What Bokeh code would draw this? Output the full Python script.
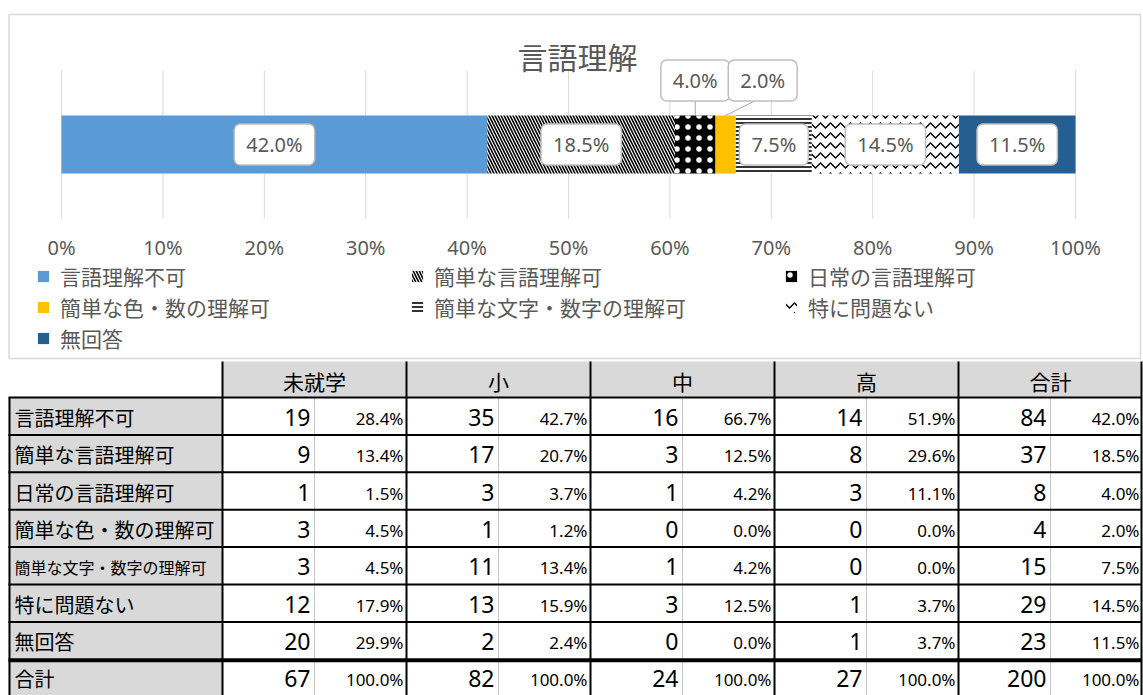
import numpy as np
from bokeh.plotting import figure
from bokeh.layouts import column
from bokeh.models import Range1d, Legend, LegendItem, Label
from bokeh.core.properties import value
from bokeh.embed import file_html
from bokeh.resources import INLINE

# ---------------- data ----------------
title_text = "言語理解"
categories = ["言語理解不可", "簡単な言語理解可", "日常の言語理解可", "簡単な色・数の理解可",
              "簡単な文字・数字の理解可", "特に問題ない", "無回答"]
groups = ["未就学", "小", "中", "高", "合計"]
counts_preschool = [19, 9, 1, 3, 3, 12, 20]
counts_elementary = [35, 17, 3, 1, 11, 13, 2]
counts_junior = [16, 3, 1, 0, 1, 3, 0]
counts_high = [14, 8, 3, 0, 0, 1, 1]
counts_total = [84, 37, 8, 4, 15, 29, 23]
total_label = "合計"
tick_values = [0, 10, 20, 30, 40, 50, 60, 70, 80, 90, 100]

# ---------------- styles ----------------
GRAY = "#595959"
JP = "Noto Sans CJK JP"
fill_colors = ["#5B9BD5", "#FFFFFF", "#000000", "#FFC000", "#FFFFFF", "#FFFFFF", "#255E91"]
hatch_patterns = [None, "left_diagonal_line", "dot", None, "horizontal_line", "horizontal_wave", None]
hatch_colors = [None, "black", "white", None, "black", "black", None]
hatch_scales = [1, 6, 11, 1, 4, 10, 1]
hatch_weights = [1, 1.6, 1, 1, 1.6, 1.4, 1]
label_dx = [0, 0, 0, 37, 0, 0, 0]     # px
label_dy = [0, 0, 64, 64, 0, 0, 0]    # px

W = 1143
CH = 360
X0_PX, X100_PX = 61.0, 1075.0         # pixel position of 0% and 100%
PX_PER_UNIT = (X100_PX - X0_PX) / 100.0
GRID_TOP, GRID_BOTTOM = 70, 218
BAR_CY, BAR_H = 144, 58
TICK_Y = 247


def px2x(px):
    return (px - X0_PX) / PX_PER_UNIT


# ---------------- chart ----------------
shares = np.array(counts_total, dtype=float) / sum(counts_total) * 100.0
ends = np.cumsum(shares)
starts = ends - shares
centers = (starts + ends) / 2.0
pct_labels = ["%.1f%%" % s for s in shares]

p = figure(width=W, height=CH, x_range=Range1d(px2x(0), px2x(W)), y_range=Range1d(CH, 0),
           output_backend="svg", toolbar_location=None,
           min_border=0, min_border_left=0, min_border_right=0,
           min_border_top=0, min_border_bottom=0)
p.axis.visible = False
p.grid.visible = False
p.outline_line_color = None

# outer chart border
p.quad(left=[px2x(8.5)], right=[px2x(1140)], top=[14], bottom=[358],
       fill_color=None, line_color="#d9d9d9", line_width=1.5)

# grid lines and tick labels on the percent scale
p.segment(x0=tick_values, y0=[GRID_TOP] * len(tick_values), x1=tick_values,
          y1=[GRID_BOTTOM] * len(tick_values), line_color="#d9d9d9", line_width=1)
p.text(x=tick_values, y=[TICK_Y] * len(tick_values), text=["%d%%" % v for v in tick_values],
       text_align="center", text_baseline="middle", text_font=value("Noto Sans"),
       text_font_size="20px", text_color=GRAY)

renderers = []
for i, cat in enumerate(categories):
    kw = dict(y=[BAR_CY], left=[starts[i]], right=[ends[i]], height=BAR_H,
              fill_color=fill_colors[i], line_color=None)
    if hatch_patterns[i]:
        kw.update(hatch_pattern=hatch_patterns[i], hatch_color=hatch_colors[i],
                  hatch_scale=hatch_scales[i], hatch_weight=hatch_weights[i])
    renderers.append(p.hbar(**kw))

# leader lines for the offset labels
lx0, ly0, lx1, ly1 = [], [], [], []
for i in range(len(categories)):
    if label_dy[i] != 0:
        lx0.append(centers[i] + ((label_dx[i] - 5) / PX_PER_UNIT if label_dx[i] else 0))
        ly0.append(BAR_CY - label_dy[i] + 19)
        lx1.append(centers[i])
        ly1.append(BAR_CY - BAR_H / 2)
p.segment(x0=lx0, y0=ly0, x1=lx1, y1=ly1, line_color="#a6a6a6", line_width=1)

for i in range(len(categories)):
    p.add_layout(Label(x=centers[i], y=BAR_CY, x_offset=label_dx[i], y_offset=label_dy[i],
                       text=pct_labels[i], text_align="center", text_baseline="middle",
                       text_font="Noto Sans", text_font_size="20px", text_color=GRAY,
                       background_fill_color="white", border_line_color="#bfbfbf",
                       border_line_width=1.5, padding=(12, 7), border_radius=6))

p.add_layout(Label(x=px2x(577), y=55, text=title_text, text_align="center",
                   text_baseline="middle", text_font=JP, text_font_size="30px",
                   text_color=GRAY))

legend = Legend(items=[LegendItem(label=value(c), renderers=[r]) for c, r in zip(categories, renderers)],
                location=(36, 7), orientation="horizontal", ncols=3,
                glyph_width=14, glyph_height=14, label_standoff=10, label_width=349,
                spacing=1, padding=0, margin=0, border_line_color=None,
                background_fill_alpha=0, label_text_font=JP, label_text_font_size="21px",
                label_text_color=GRAY)
p.add_layout(legend, "center")

# ---------------- table ----------------
TH = 335
t = figure(width=W, height=TH, x_range=Range1d(0, W), y_range=Range1d(TH, 0),
           output_backend="svg", toolbar_location=None, min_border=0,
           min_border_left=0, min_border_right=0, min_border_top=0, min_border_bottom=0)
t.axis.visible = False
t.grid.visible = False
t.outline_line_color = None

left0 = 8
label_w = 214
group_w = 184
split = 92
top = 1
header_h = 36
row_h = 37.4
row_labels = categories + [total_label]
n_rows = len(row_labels)
group_counts = [counts_preschool, counts_elementary, counts_junior, counts_high, counts_total]
row_tops = [top + header_h + r * row_h for r in range(n_rows)]
x_lab_r = left0 + label_w
x_end = x_lab_r + len(groups) * group_w - 1
ymax_text = TH - 17


def row_mid(r):
    return min(row_tops[r] + row_h / 2 + 1, ymax_text)


# backgrounds
t.quad(left=[x_lab_r], right=[x_end], top=[top], bottom=[top + header_h], fill_color="#d9d9d9", line_color=None)
t.quad(left=[left0], right=[x_lab_r], top=[top + header_h], bottom=[TH], fill_color="#d9d9d9", line_color=None)

# dotted split lines
sx = [x_lab_r + g * group_w + split for g in range(len(groups))]
t.segment(x0=sx, y0=[top + header_h] * len(sx), x1=sx, y1=[TH] * len(sx),
          line_color="#8c8c8c", line_width=1, line_dash="1 1")

# solid lines
hx0, hy0, hx1, hy1, hw = [], [], [], [], []
for r in range(n_rows):
    hx0.append(left0); hx1.append(x_end)
    yy = row_tops[r] + (1 if r == n_rows - 1 else 0)
    hy0.append(yy); hy1.append(yy)
    hw.append(4 if r == n_rows - 1 else 2)
vx = [left0 + 1, x_lab_r] + [x_lab_r + g * group_w for g in range(1, len(groups))] + [x_end]
for k, x in enumerate(vx):
    hx0.append(x); hx1.append(x)
    hy0.append(top + header_h if k == 0 else top); hy1.append(TH)
    hw.append(2)
t.segment(x0=hx0, y0=hy0, x1=hx1, y1=hy1, line_color="black", line_width=hw)

# header texts
t.text(x=[x_lab_r + g * group_w + group_w / 2 for g in range(len(groups))],
       y=[top + header_h / 2 + 1] * len(groups), text=groups,
       text_align="center", text_baseline="middle", text_font=value(JP),
       text_font_size="21px", text_color="black")

# row labels
lab_sizes = ["16px" if len(s) > 10 else "20px" for s in row_labels]
t.text(x=[left0 + 6] * n_rows, y=[row_mid(r) for r in range(n_rows)], text=row_labels,
       text_align="left", text_baseline="middle", text_font=value(JP),
       text_font_size=lab_sizes, text_color="black")

# numbers
cx, cy, ct, px_, py_, pt = [], [], [], [], [], []
for g, cnts in enumerate(group_counts):
    tot = sum(cnts)
    vals = list(cnts) + [tot]
    for r, v in enumerate(vals):
        ymid = row_mid(r)
        cx.append(x_lab_r + g * group_w + split - 4); cy.append(ymid); ct.append(str(v))
        px_.append(x_lab_r + g * group_w + group_w - 3); py_.append(ymid + 1)
        pt.append("%.1f%%" % (v / tot * 100.0))
t.text(x=cx, y=cy, text=ct, text_align="right", text_baseline="middle",
       text_font=value("Noto Sans"), text_font_size="23px", text_color="black")
t.text(x=px_, y=py_, text=pt, text_align="right", text_baseline="middle",
       text_font=value("Noto Sans"), text_font_size="17px", text_color="black")

layout = column(p, t, spacing=0)
open("out.html", "w").write(file_html(layout, INLINE))
